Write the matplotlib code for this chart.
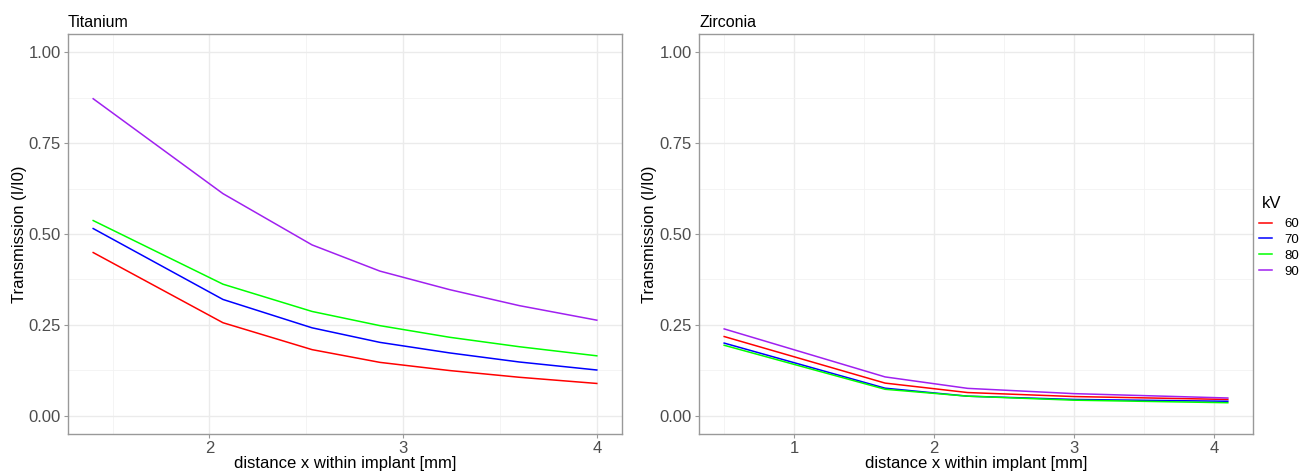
import numpy as np
import matplotlib.pyplot as plt

plt.rcParams['font.family'] = ['Liberation Sans', 'DejaVu Sans']

kv_levels = ['60', '70', '80', '90']
kv_colors = ['#FF0000', '#0000FF', '#00FF00', '#A020F0']

# Titanium: transmission vs distance
ti_x = [1.4, 2.07, 2.53, 2.88, 3.24, 3.6, 4.0]
ti_60 = [0.449, 0.256, 0.182, 0.147, 0.1245, 0.106, 0.089]
ti_70 = [0.515, 0.320, 0.242, 0.202, 0.173, 0.148, 0.126]
ti_80 = [0.537, 0.362, 0.287, 0.248, 0.216, 0.190, 0.165]
ti_90 = [0.872, 0.611, 0.470, 0.398, 0.347, 0.303, 0.263]

# Zirconia
zr_x = [0.5, 1.65, 2.24, 3.0, 4.1]
zr_60 = [0.218, 0.090, 0.064, 0.053, 0.045]
zr_70 = [0.200, 0.076, 0.054, 0.045, 0.040]
zr_80 = [0.194, 0.073, 0.054, 0.043, 0.036]
zr_90 = [0.239, 0.107, 0.0755, 0.061, 0.049]

y_ticks = [0.0, 0.25, 0.5, 0.75, 1.0]
y_tick_labels = ['0.00', '0.25', '0.50', '0.75', '1.00']

W, H = 1305, 473
fig = plt.figure(figsize=(W / 100, H / 100), dpi=100)


def expand(lo, hi, f=0.05):
    d = (hi - lo) * f
    return lo - d, hi + d


def style_panel(ax, xs, title, xticks, xminor):
    ax.set_xlim(*expand(min(xs), max(xs)))
    ax.set_ylim(*expand(0, 1))
    ax.set_xticks(xticks)
    ax.set_xticks(xminor, minor=True)
    ax.set_yticks(y_ticks)
    ax.set_yticklabels(y_tick_labels)
    ax.set_yticks([0.125, 0.375, 0.625, 0.875], minor=True)
    ax.grid(True, which='major', color='#EBEBEB', linewidth=1.0)
    ax.grid(True, which='minor', color='#F2F2F2', linewidth=0.6)
    ax.set_axisbelow(True)
    ax.tick_params(which='major', length=3, width=0.8, color='#999999',
                   labelsize=12, labelcolor='#4D4D4D', pad=2)
    ax.tick_params(which='minor', length=0)
    for s in ax.spines.values():
        s.set_color('#999999')
        s.set_linewidth(1.0)
    ax.set_title(title, loc='left', fontsize=11.5, pad=5)
    ax.set_xlabel('distance x within implant [mm]', fontsize=12)
    ax.set_ylabel('Transmission (I/I0)', fontsize=12)
    ax.xaxis.set_label_coords(0.5, -0.056)


ax1 = fig.add_axes([68 / W, 39 / H, 554 / W, 400 / H])
for ys, c, lab in zip([ti_60, ti_70, ti_80, ti_90], kv_colors, kv_levels):
    ax1.plot(ti_x, ys, color=c, lw=1.1, label=lab)
style_panel(ax1, ti_x, 'Titanium', [2, 3, 4], [1.5, 2.5, 3.5])
ax1.yaxis.set_label_coords(-0.074, 0.5)

ax2 = fig.add_axes([699 / W, 39 / H, 554 / W, 400 / H])
for ys, c, lab in zip([zr_60, zr_70, zr_80, zr_90], kv_colors, kv_levels):
    ax2.plot(zr_x, ys, color=c, lw=1.1, label=lab)
style_panel(ax2, zr_x, 'Zirconia', [1, 2, 3, 4], [0.5, 1.5, 2.5, 3.5])
ax2.yaxis.set_label_coords(-0.076, 0.5)

# legend: title placed separately to match the spacing
fig.text(1262 / W, 1 - 203 / H, 'kV', fontsize=12, ha='left', va='center')
handles, labels = ax2.get_legend_handles_labels()
fig.legend(handles, labels, loc='upper left',
           bbox_to_anchor=(1259 / W, 1 - 218 / H), frameon=False,
           fontsize=9.5, handlelength=1.0, handletextpad=0.9,
           labelspacing=0.27, borderaxespad=0, borderpad=0)

fig.savefig('out.png', dpi=100)
